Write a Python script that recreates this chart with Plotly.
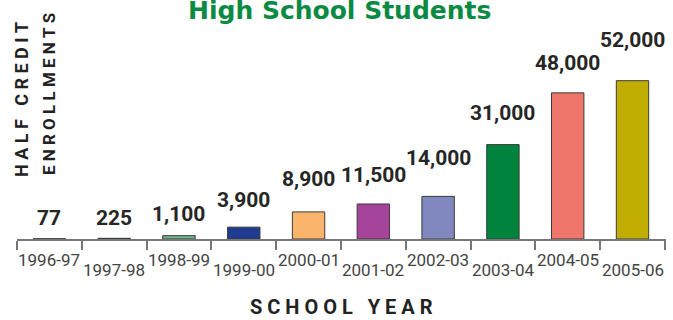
import plotly.graph_objects as go

# Half-credit enrollments by school year
years = ["1996-97", "1997-98", "1998-99", "1999-00", "2000-01",
         "2001-02", "2002-03", "2003-04", "2004-05", "2005-06"]
enrollments = [77, 225, 1100, 3900, 8900, 11500, 14000, 31000, 48000, 52000]
value_labels = ["77", "225", "1,100", "3,900", "8,900",
                "11,500", "14,000", "31,000", "48,000", "52,000"]

bar_colors = ["#2b2b2b", "#2b2b2b", "#6fb58a", "#1f3c91", "#fbb46c",
              "#a5449a", "#8187bf", "#00843d", "#ee766b", "#c1ad00"]

# vertical gap (px) between each bar top and the baseline of its label
label_gap = [14, 13.5, 14.5, 20.5, 25.5, 21.5, 31.5, 25, 23, 34]

FONT = "Roboto, Liberation Sans, sans-serif"
W, H = 673, 320
ML, MR, MT, MB = 17, 7, 0, 81
Y_MAX = 78500

fig = go.Figure(go.Bar(
    x=years,
    y=enrollments,
    width=0.5,
    marker=dict(color=bar_colors, line=dict(color="#3a3a3a", width=1)),
    hoverinfo="x+y",
))

annotations = []
for yr, v, txt, gap in zip(years, enrollments, value_labels, label_gap):
    annotations.append(dict(
        x=yr, y=v, xref="x", yref="y", text=txt, showarrow=False,
        yanchor="bottom", xanchor="center", yshift=gap - 6, borderpad=0,
        font=dict(family=FONT, size=21, color="#262626", weight="bold"),
    ))

# staggered category labels below the axis
for i, yr in enumerate(years):
    annotations.append(dict(
        x=yr, y=0, xref="x", yref="y", text=yr, showarrow=False,
        yanchor="top", xanchor="center", yshift=-10 if i % 2 == 0 else -20,
        borderpad=0,
        font=dict(family=FONT, size=17, color="#444444"),
    ))

plot_h = H - MT - MB
plot_w = W - ML - MR


def px_x(p):
    return (p - ML) / plot_w


def px_y(p):
    return (H - MB - p) / plot_h


sp = "\u00a0"


def spaced(s, gap=1, word_gap=3):
    words = s.split(" ")
    return (sp * word_gap).join((sp * gap).join(w) for w in words)


annotations += [
    dict(text="High School Students", xref="paper", yref="paper",
         x=px_x(339), y=px_y(26), xanchor="center", yanchor="bottom",
         showarrow=False, borderpad=0,
         font=dict(family="DejaVu Sans", size=25, color="#0b8a43", weight="bold")),
    dict(text=spaced("SCHOOL YEAR", 1, 3), xref="paper", yref="paper",
         x=px_x(341), y=px_y(320), xanchor="center", yanchor="bottom",
         showarrow=False, borderpad=0,
         font=dict(family=FONT, size=20, color="#222222", weight="bold")),
    dict(text=spaced("HALF CREDIT", 1, 3), xref="paper", yref="paper",
         x=px_x(21), y=px_y(100), xanchor="center", yanchor="middle",
         textangle=-90, showarrow=False, borderpad=0,
         font=dict(family=FONT, size=18, color="#222222", weight="bold")),
    dict(text=spaced("ENROLLMENTS", 1, 3), xref="paper", yref="paper",
         x=px_x(49), y=px_y(94), xanchor="center", yanchor="middle",
         textangle=-90, showarrow=False, borderpad=0,
         font=dict(family=FONT, size=17, color="#222222", weight="bold")),
]

fig.update_layout(
    width=W, height=H,
    margin=dict(l=ML, r=MR, t=MT, b=MB),
    paper_bgcolor="white", plot_bgcolor="white",
    showlegend=False,
    annotations=annotations,
    xaxis=dict(
        type="category", showline=True, linecolor="#777777", linewidth=2,
        ticks="outside", tickson="boundaries", ticklen=9, tickwidth=1.5,
        tickcolor="#777777", showticklabels=False, showgrid=False,
        zeroline=False, fixedrange=True,
    ),
    yaxis=dict(
        range=[0, Y_MAX], visible=False, showgrid=False, zeroline=False,
        fixedrange=True,
    ),
)

fig.write_html("out.html", config={"displayModeBar": False})
